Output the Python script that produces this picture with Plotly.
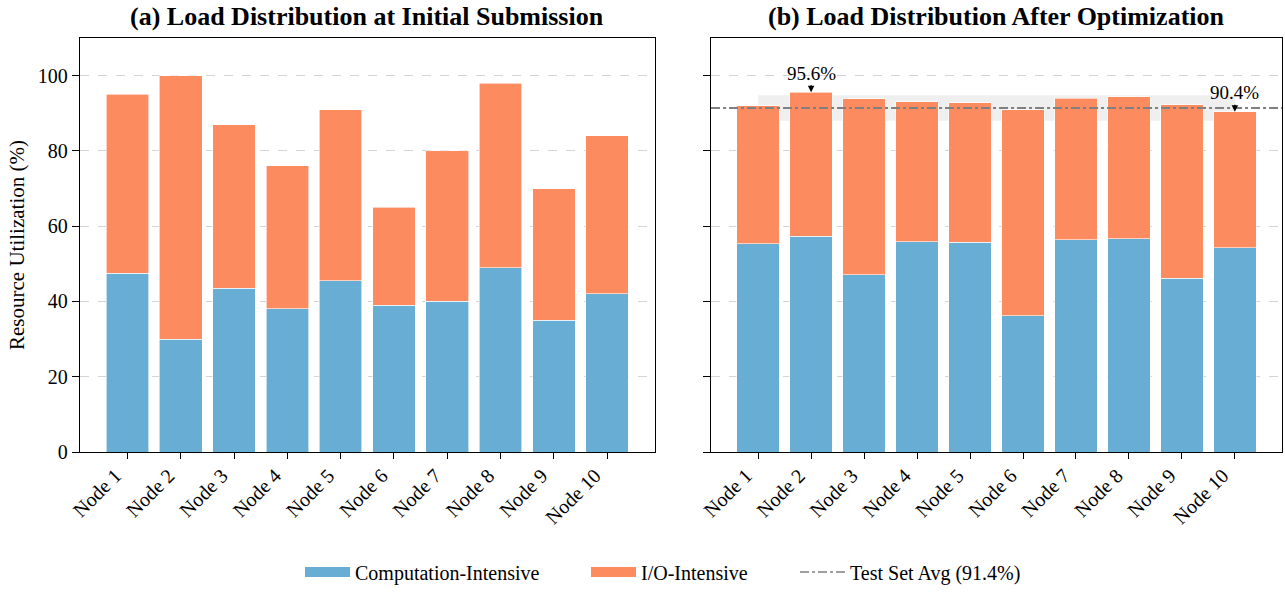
import plotly.graph_objects as go

# Per-node resource utilization (%), split by workload type
nodes = [f"Node {i}" for i in range(1, 11)]

initial_compute = [47.5, 30.0, 43.5, 38.0, 45.5, 39.0, 40.0, 49.0, 35.0, 42.0]
initial_total = [95.0, 100.0, 87.0, 76.0, 91.0, 65.0, 80.0, 98.0, 70.0, 84.0]
initial_io = [t - c for t, c in zip(initial_total, initial_compute)]

optimized_compute = [55.3, 57.3, 47.1, 55.9, 55.7, 36.2, 56.4, 56.6, 46.2, 54.3]
optimized_total = [92.0, 95.6, 93.8, 93.0, 92.8, 90.9, 94.0, 94.4, 92.3, 90.4]
optimized_io = [t - c for t, c in zip(optimized_total, optimized_compute)]

test_set_avg = 91.4
band_low, band_high = 88.0, 94.8

panel_titles = ["(a) Load Distribution at Initial Submission",
                "(b) Load Distribution After Optimization"]
y_ticks = [0, 20, 40, 60, 80, 100]

BLUE = "#67add4"
ORANGE = "#fc8b60"
GREY = "#808080"
FONT = "Liberation Serif"

fig = go.Figure()

for xa, ya, comp, io in [("x", "y", initial_compute, initial_io),
                         ("x2", "y2", optimized_compute, optimized_io)]:
    fig.add_trace(go.Bar(x=nodes, y=comp, name="Computation-Intensive",
                         marker=dict(color=BLUE, line=dict(color="white", width=0.6)),
                         width=0.8, xaxis=xa, yaxis=ya, showlegend=False))
    fig.add_trace(go.Bar(x=nodes, y=io, name="I/O-Intensive",
                         marker=dict(color=ORANGE, line=dict(color="white", width=0.6)),
                         width=0.8, xaxis=xa, yaxis=ya, showlegend=False))

# legend keys: wide colour patches for the bars, dash-dot line for the average
legend_keys = [("Computation-Intensive", BLUE, 17, "solid", "legend"),
               ("I/O-Intensive", ORANGE, 17, "solid", "legend2"),
               (f"Test Set Avg ({test_set_avg}%)", GREY, 1.5, "dashdot", "legend3")]
for name, color, lw, dash, lg in legend_keys:
    fig.add_trace(go.Scatter(x=[None], y=[None], mode="lines", name=name,
                             line=dict(color=color, width=lw, dash=dash),
                             xaxis="x2", yaxis="y2", legend=lg))

# shaded band and average line on the optimized panel
fig.add_shape(type="rect", xref="x2", yref="y2", x0=nodes[0], x1=nodes[-1],
              y0=band_low, y1=band_high, fillcolor="rgba(128,128,128,0.13)",
              line=dict(width=0), layer="below")
fig.add_shape(type="line", xref="x2 domain", yref="y2", x0=0, x1=1,
              y0=test_set_avg, y1=test_set_avg,
              line=dict(color=GREY, width=1.8, dash="dashdot"))

# peak / trough labels on the optimized panel
i_max = optimized_total.index(max(optimized_total))
i_min = optimized_total.index(min(optimized_total))
for i in (i_max, i_min):
    fig.add_annotation(x=nodes[i], y=optimized_total[i], xref="x2", yref="y2",
                       text=f"{optimized_total[i]}%", showarrow=True,
                       arrowhead=2, arrowsize=1, arrowwidth=1.3, arrowcolor="black",
                       ax=0, ay=-19, font=dict(family=FONT, size=19, color="black"))

# panel titles
for title, xref in zip(panel_titles, ["x domain", "x2 domain"]):
    fig.add_annotation(text=f"<b>{title}</b>", xref=xref, yref="paper",
                       x=0.5, y=1, yanchor="bottom", yshift=5, showarrow=False,
                       font=dict(family=FONT, size=26, color="black"))

xcommon = dict(type="category", range=[-0.89, 9.89], tickangle=-45,
               ticks="outside", ticklen=6, tickcolor="black",
               showline=True, linecolor="black", linewidth=1.3, mirror=True,
               showgrid=False, automargin=False, ticklabelshift=-12,
               ticklabelstandoff=-3,
               tickfont=dict(family=FONT, size=20, color="black"))
ycommon = dict(range=[0, 110], tickvals=y_ticks, ticks="outside", ticklen=7,
               tickcolor="black", showline=True, linecolor="black", linewidth=1.3,
               mirror=True, showgrid=True, gridcolor="rgba(160,160,160,0.45)",
               griddash="dash", gridwidth=1, zeroline=False, layer="above traces",
               automargin=False, tickfont=dict(family=FONT, size=20, color="black"))

leg = dict(orientation="h", yanchor="middle", y=-0.29, xanchor="left",
           font=dict(family=FONT, size=20), itemwidth=45, bgcolor="rgba(0,0,0,0)")

fig.update_layout(
    width=1285, height=596,
    margin=dict(l=80, r=3, t=38, b=144),
    paper_bgcolor="white", plot_bgcolor="white",
    barmode="stack", bargap=0.2,
    font=dict(family=FONT, size=18, color="black"),
    xaxis=dict(domain=[0, 0.478], anchor="y", **xcommon),
    xaxis2=dict(domain=[0.525, 1], anchor="y2", **xcommon),
    yaxis=dict(anchor="x", title=dict(text="Resource Utilization (%)",
                                      font=dict(family=FONT, size=21), standoff=7),
               **ycommon),
    yaxis2=dict(anchor="x2", showticklabels=False, **ycommon),
    legend=dict(x=(300 - 80) / 1202, **leg),
    legend2=dict(x=(586 - 80) / 1202, **leg),
    legend3=dict(x=(795 - 80) / 1202, **leg),
)

fig.write_html("out.html")
